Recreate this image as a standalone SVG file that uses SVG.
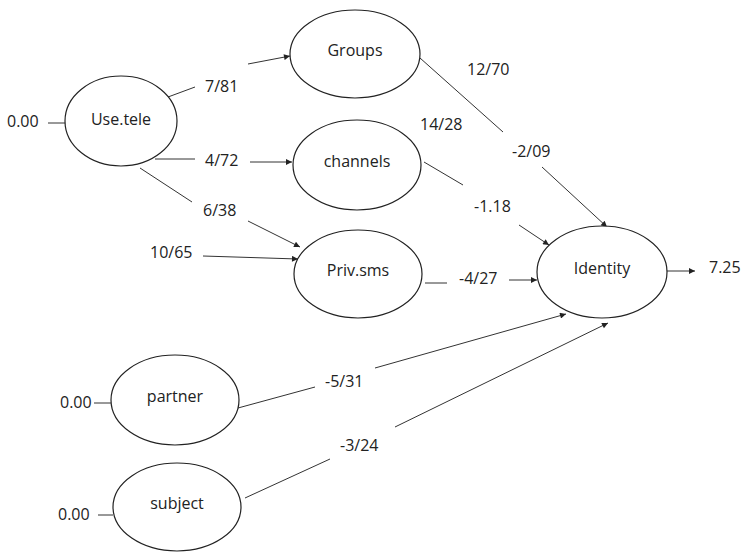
<svg xmlns="http://www.w3.org/2000/svg" width="744" height="552" viewBox="0 0 744 552">
<defs>
<marker id="ah" viewBox="0 0 10 10" refX="10" refY="5" markerWidth="7" markerHeight="6" markerUnits="userSpaceOnUse" orient="auto">
<path d="M0,0 L10,5 L0,10 z" fill="#222"/>
</marker>
</defs>
<style>
.n ellipse{fill:#fff;stroke:#222;stroke-width:1.2}
text{font-family:"Open Sans","Liberation Sans",sans-serif;font-size:16px;fill:#222}
.c{text-anchor:middle}
.e line{stroke:#333;stroke-width:1}
.a{marker-end:url(#ah)}
</style>
<rect width="744" height="552" fill="#fff"/>
<g id="connectors" class="e">
<line x1="48" y1="123" x2="65" y2="123"/>
<line x1="94" y1="403" x2="111" y2="403"/>
<line x1="98" y1="515" x2="113" y2="515"/>
<line x1="168" y1="97" x2="195" y2="87"/>
<line class="a" x1="248" y1="64" x2="290" y2="56"/>
<line x1="155" y1="159" x2="195" y2="159"/>
<line class="a" x1="250" y1="162" x2="292" y2="162"/>
<line x1="140" y1="168" x2="192" y2="202"/>
<line class="a" x1="248" y1="221" x2="300" y2="247"/>
<line class="a" x1="203" y1="256" x2="298" y2="259"/>
<line x1="420" y1="58" x2="503" y2="132"/>
<line class="a" x1="542" y1="167" x2="607" y2="227"/>
<line x1="424" y1="162" x2="463" y2="185"/>
<line class="a" x1="519" y1="225" x2="549" y2="245"/>
<line x1="425" y1="283" x2="447" y2="283"/>
<line class="a" x1="509" y1="280" x2="537" y2="280"/>
<line x1="238" y1="408" x2="315" y2="387"/>
<line class="a" x1="375" y1="368" x2="566" y2="314"/>
<line x1="245" y1="498" x2="330" y2="459"/>
<line class="a" x1="395" y1="427" x2="608" y2="323"/>
<line class="a" x1="667" y1="271" x2="695" y2="271"/>
</g>
<g id="edge-labels">
<text x="205" y="92">7/81</text>
<text x="205" y="166">4/72</text>
<text x="203" y="216">6/38</text>
<text x="150" y="258">10/65</text>
<text x="467" y="75">12/70</text>
<text x="420" y="130">14/28</text>
<text x="512" y="157">-2/09</text>
<text x="474" y="212">-1.18</text>
<text x="459" y="284">-4/27</text>
<text x="325" y="387">-5/31</text>
<text x="340" y="451">-3/24</text>
<text x="709" y="273">7.25</text>
</g>
<g id="node-usetele" class="n">
<ellipse cx="121" cy="121" rx="56" ry="45"/>
<text class="c" x="121" y="125">Use.tele</text>
<text x="7" y="127">0.00</text>
</g>
<g id="node-groups" class="n">
<ellipse cx="355" cy="54" rx="65" ry="44"/>
<text class="c" x="355" y="56">Groups</text>
</g>
<g id="node-channels" class="n">
<ellipse cx="357" cy="165" rx="64" ry="45"/>
<text class="c" x="357" y="167">channels</text>
</g>
<g id="node-privsms" class="n">
<ellipse cx="358" cy="274" rx="64" ry="44"/>
<text class="c" x="358" y="276">Priv.sms</text>
</g>
<g id="node-identity" class="n">
<ellipse cx="602" cy="272" rx="65" ry="46"/>
<text class="c" x="602" y="274">Identity</text>
</g>
<g id="node-partner" class="n">
<ellipse cx="175" cy="400" rx="64" ry="45"/>
<text class="c" x="175" y="402">partner</text>
<text x="60" y="408">0.00</text>
</g>
<g id="node-subject" class="n">
<ellipse cx="177" cy="507" rx="64" ry="44"/>
<text class="c" x="177" y="509">subject</text>
<text x="58" y="520">0.00</text>
</g>
</svg>
